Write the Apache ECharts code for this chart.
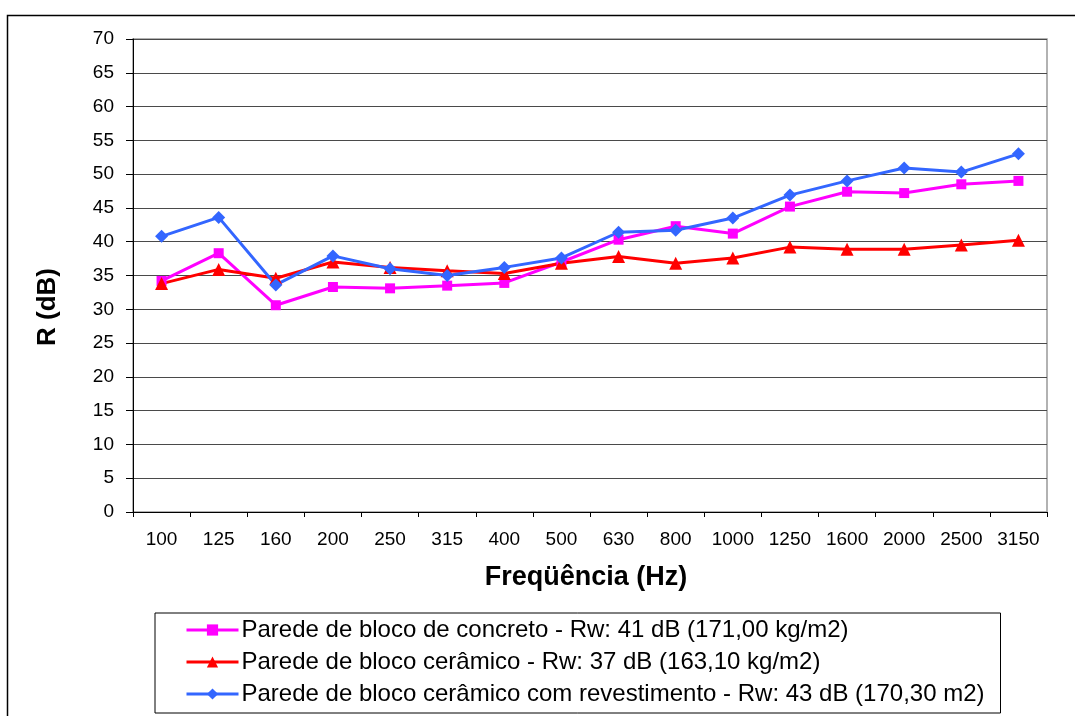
<!DOCTYPE html>
<html>
<head>
<meta charset="utf-8">
<title>Isolamento sonoro - R (dB)</title>
<script src="https://cdn.jsdelivr.net/npm/echarts@6/dist/echarts.min.js"></script>
<style>
  html, body { margin: 0; padding: 0; background: #fff; }
  #chart { width: 1075px; height: 716px; }
</style>
</head>
<body>
<div id="chart"></div>
<script>
// Frequency bands (Hz)
const frequencias = ['100', '125', '160', '200', '250', '315', '400', '500',
  '630', '800', '1000', '1250', '1600', '2000', '2500', '3150'];

// Sound reduction index R (dB) per band
const blocoConcreto = [34.2, 38.3, 30.6, 33.3, 33.1, 33.5, 33.9, 37.0,
  40.3, 42.3, 41.2, 45.2, 47.4, 47.2, 48.5, 49.0];
const blocoCeramico = [33.8, 35.9, 34.6, 37.0, 36.2, 35.7, 35.3, 36.8,
  37.8, 36.8, 37.6, 39.2, 38.9, 38.9, 39.5, 40.2];
const blocoCeramicoRevest = [40.8, 43.6, 33.6, 37.9, 36.0, 35.0, 36.2, 37.6,
  41.4, 41.7, 43.5, 46.9, 49.0, 50.9, 50.3, 53.0];

const nomes = [
  'Parede de bloco de concreto - Rw: 41 dB (171,00 kg/m2)',
  'Parede de bloco cerâmico - Rw: 37 dB (163,10 kg/m2)',
  'Parede de bloco cerâmico com revestimento - Rw: 43 dB (170,30 m2)'
];

const FONT = '"Liberation Sans", Arial, sans-serif';

const chart = echarts.init(document.getElementById('chart'), null, { renderer: 'canvas' });

function serie(name, data, color, symbol, size) {
  return {
    name: name,
    type: 'line',
    data: data,
    symbol: symbol,
    symbolSize: size,
    showSymbol: true,
    lineStyle: { color: color, width: 3 },
    itemStyle: { color: color },
    emphasis: { disabled: true },
    animation: false
  };
}

chart.setOption({
  animation: false,
  textStyle: { fontFamily: FONT },
  graphic: [
    {
      type: 'rect',
      silent: true,
      z: -10,
      shape: { x: 7.5, y: 15.5, width: 1200, height: 900 },
      style: { fill: 'none', stroke: '#000', lineWidth: 1.5 }
    },
    {
      type: 'text',
      x: 48, y: 307,
      rotation: Math.PI / 2,
      style: {
        text: 'R (dB)',
        font: 'bold 26px ' + FONT,
        fill: '#000',
        textAlign: 'center',
        textVerticalAlign: 'middle'
      }
    },
    {
      type: 'text',
      x: 586, y: 578,
      style: {
        text: 'Freqüência (Hz)',
        font: 'bold 27px ' + FONT,
        fill: '#000',
        textAlign: 'center',
        textVerticalAlign: 'middle'
      }
    }
  ],
  grid: {
    left: 133, top: 39, right: 28, bottom: 204,
    show: true,
    borderColor: '#999',
    borderWidth: 1.5,
    backgroundColor: '#fff'
  },
  legend: {
    orient: 'vertical',
    left: 155,
    top: 613,
    padding: [5, 16, 7, 30],
    itemGap: 8,
    itemWidth: 52,
    itemHeight: 14,
    backgroundColor: '#fff',
    borderColor: '#000',
    borderWidth: 1,
    borderRadius: 0,
    lineStyle: { width: 3 },
    textStyle: { fontSize: 24, color: '#000', fontFamily: FONT, lineHeight: 24, padding: [0, 0, 0, -2] },
    data: nomes
  },
  xAxis: {
    type: 'category',
    data: frequencias,
    boundaryGap: true,
    axisLine: { show: true, lineStyle: { color: '#000', width: 1 } },
    axisTick: { show: true, length: 5, lineStyle: { color: '#000' } },
    axisLabel: { fontSize: 19, color: '#000', margin: 18, interval: 0, fontFamily: FONT },
    splitLine: { show: false }
  },
  yAxis: {
    type: 'value',
    min: 0, max: 70, interval: 5,
    axisLine: { show: true, lineStyle: { color: '#000', width: 1 } },
    axisTick: { show: true, length: 7, lineStyle: { color: '#000' } },
    axisLabel: { fontSize: 19, color: '#000', margin: 19, fontFamily: FONT },
    splitLine: { show: true, lineStyle: { color: '#4a4a4a', width: 1 } }
  },
  series: [
    serie(nomes[0], blocoConcreto, '#FF00FF', 'rect', 10),
    serie(nomes[1], blocoCeramico, '#FF0000', 'triangle', 13),
    serie(nomes[2], blocoCeramicoRevest, '#3366FF', 'diamond', 13)
  ]
});
</script>
</body>
</html>
